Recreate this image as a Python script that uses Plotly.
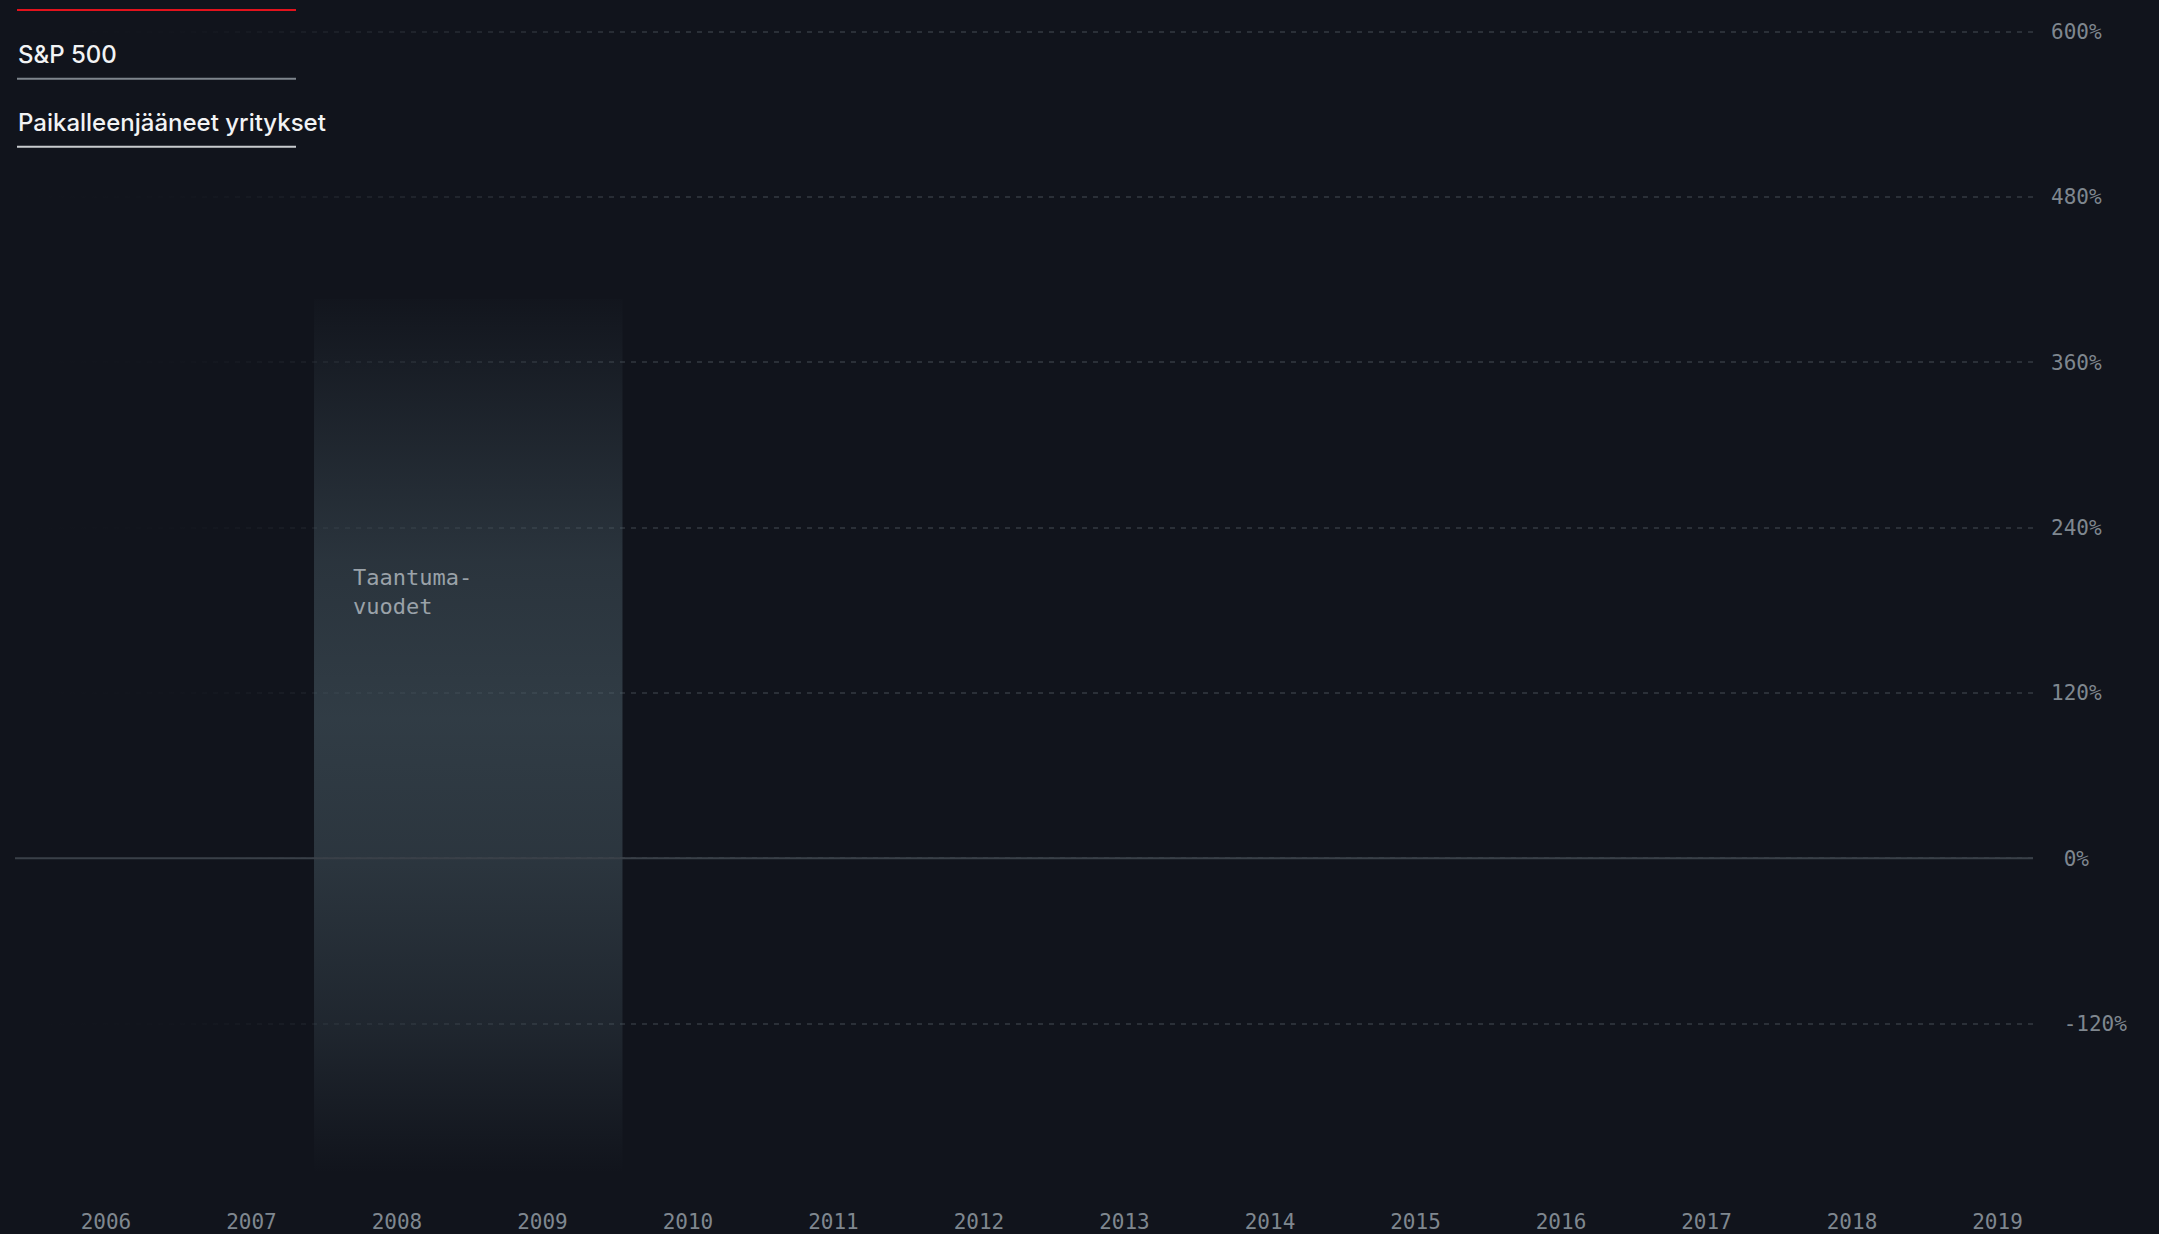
import plotly.graph_objects as go

# ---- data ----
years = [2006, 2007, 2008, 2009, 2010, 2011, 2012, 2013, 2014, 2015, 2016, 2017, 2018, 2019]
year_labels = [str(y) for y in years]
y_ticks = [-120, 0, 120, 240, 360, 480, 600]
y_tick_labels = ["\u00a0-120%", "\u00a00%", "120%", "240%", "360%", "480%", "600%"]
recession_start = 2007.43
recession_end = 2009.55
recession_label = "Taantuma-<br>vuodet"
series_names = ["", "S&P 500", "Paikalleenjääneet yritykset"]
series_colors = ["#e3121c", "#7e858c", "#c9cccf"]

BG = "#11141c"
x_range = [2005.375, 2019.244]
y_range = [-227, 623]

fig = go.Figure()

# fade-in overlay for the grid on the left
fade_end = 2010.0
fig.add_trace(go.Scatter(
    x=[x_range[0], fade_end, fade_end, x_range[0], x_range[0]],
    y=[y_range[0], y_range[0], y_range[1], y_range[1], y_range[0]],
    fill="toself", mode="none", hoverinfo="skip", showlegend=False,
    fillgradient=dict(type="horizontal", start=x_range[0], stop=fade_end,
                      colorscale=[[0, "rgba(17,20,28,1)"], [0.25, "rgba(17,20,28,0.95)"],
                                  [0.5, "rgba(17,20,28,0.55)"],
                                  [1, "rgba(17,20,28,0)"]]),
))

# recession band with vertical gradient
band_bottom, band_top = -227, 406
fig.add_trace(go.Scatter(
    x=[recession_start, recession_end, recession_end, recession_start, recession_start],
    y=[band_bottom, band_bottom, band_top, band_top, band_bottom],
    fill="toself", mode="none", hoverinfo="skip", showlegend=False,
    fillgradient=dict(type="vertical", start=band_bottom, stop=band_top,
                      colorscale=[[0, "rgba(80,100,110,0)"],
                                  [0.16, "rgba(80,100,110,0.22)"],
                                  [0.36, "rgba(80,100,110,0.42)"],
                                  [0.52, "rgba(80,100,110,0.5)"],
                                  [0.7, "rgba(80,100,110,0.4)"],
                                  [0.86, "rgba(80,100,110,0.2)"],
                                  [1, "rgba(80,100,110,0.02)"]]),
))

# series (no data drawn yet)
for name, col in zip(series_names, series_colors):
    fig.add_trace(go.Scatter(x=[], y=[], mode="lines", name=name,
                             line=dict(color=col, width=2), showlegend=False))

# zero line above
fig.add_shape(type="line", xref="paper", yref="y", x0=0, x1=1, y0=0, y1=0,
              line=dict(color="#3a4048", width=2), layer="above")

# recession label
fig.add_annotation(x=recession_start, y=214, xref="x", yref="y", xanchor="left", yanchor="top",
                   xshift=37, text=recession_label, showarrow=False, align="left",
                   font=dict(family="DejaVu Sans Mono", size=22, color="#9aa2a9"))

# custom legend
legend_line_y = [10, 79, 147]
legend_text_y = [-14, 55, 123]
for name, col, ly, ty in zip(series_names, series_colors, legend_line_y, legend_text_y):
    fig.add_shape(type="line", xref="paper", yref="paper",
                  x0=2 / 2018, x1=281 / 2018,
                  y0=1 - ly / 1173, y1=1 - ly / 1173,
                  line=dict(color=col, width=2), layer="above")
    if name:
        fig.add_annotation(x=1 / 2018, y=1 - ty / 1173, xref="paper", yref="paper",
                           xanchor="left", yanchor="middle", text=name, showarrow=False,
                           font=dict(family="Inter", size=24, color="#f2f3f4", weight=500))

fig.update_layout(
    width=2159, height=1234,
    margin=dict(l=15, r=126, t=0, b=61),
    paper_bgcolor=BG, plot_bgcolor=BG,
    showlegend=False,
    xaxis=dict(range=x_range, tickvals=years, ticktext=year_labels, showgrid=False,
               zeroline=False, showline=False, ticks="", ticklabelstandoff=36,
               tickfont=dict(family="DejaVu Sans Mono", size=21, color="#7f878f")),
    yaxis=dict(range=y_range, side="right", tickvals=y_ticks, ticktext=y_tick_labels,
               showgrid=True, gridcolor="#2b3038", griddash="5px,6px", gridwidth=1.5,
               zeroline=False, showline=False, ticks="", ticklabelstandoff=17,
               tickfont=dict(family="DejaVu Sans Mono", size=21, color="#7f878f")),
)

fig.write_html("out.html", config={"displayModeBar": False},
               post_script="document.body.style.margin='0';document.body.style.overflow='hidden';"
                           "document.body.style.background='#11141c';")
